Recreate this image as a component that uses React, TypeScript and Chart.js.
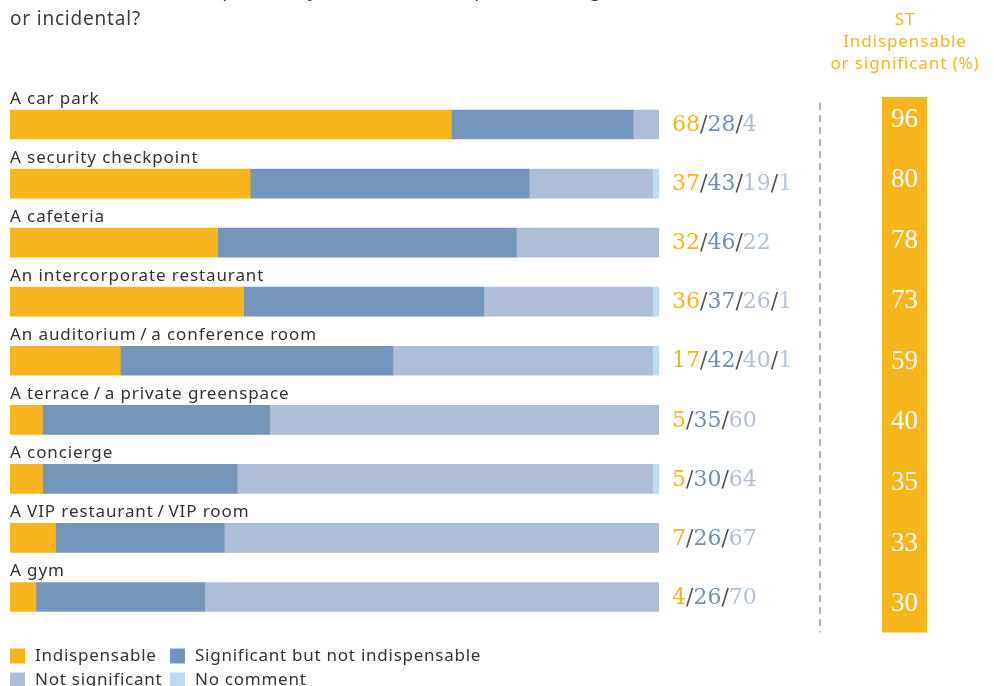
import React, { useEffect, useRef } from "react";
import { Chart, registerables } from "chart.js";

Chart.register(...registerables);

const QUESTION_LINES = [
  "Would each of these spaces at your site be indispensable, significant",
  "or incidental?",
];
const HEADER_LINES = ["ST", "Indispensable", "or significant (%)"];

const categories = [
  "A car park",
  "A security checkpoint",
  "A cafeteria",
  "An intercorporate restaurant",
  "An auditorium\u2009/\u2009a conference room",
  "A terrace\u2009/\u2009a private greenspace",
  "A concierge",
  "A VIP restaurant\u2009/\u2009VIP room",
  "A gym",
];
const indispensable = [68, 37, 32, 36, 17, 5, 5, 7, 4];
const significant = [28, 43, 46, 37, 42, 35, 30, 26, 26];
const notSignificant = [4, 19, 22, 26, 40, 60, 64, 67, 70];
const noComment = [0, 1, 0, 1, 1, 0, 1, 0, 0];
const valueLabels = [
  "68/28/4",
  "37/43/19/1",
  "32/46/22",
  "36/37/26/1",
  "17/42/40/1",
  "5/35/60",
  "5/30/64",
  "7/26/67",
  "4/26/70",
];
const stTotals = [96, 80, 78, 73, 59, 40, 35, 33, 30];

const seriesNames = [
  "Indispensable",
  "Significant but not indispensable",
  "Not significant",
  "No comment",
];
const seriesColors = ["#F8B61E", "#7396BA", "#AFBDD5", "#BEDBF0"];
const valueColors = ["#F8B61E", "#6F90B8", "#B3C1D8", "#B9C6DC"];

const SANS = '"Noto Sans", "DejaVu Sans", sans-serif';
const SERIF = '"DejaVu Serif", serif';

function setSpacing(ctx: any, px: number) {
  if ("letterSpacing" in ctx) ctx.letterSpacing = px + "px";
}

const overlayPlugin = {
  id: "overlay",
  afterDatasetsDraw(chart: any) {
    const ctx = chart.ctx as CanvasRenderingContext2D;
    const xs = chart.scales.x;
    const ys = chart.scales.y;
    ctx.save();
    ctx.textBaseline = "middle";

    // question
    ctx.textAlign = "left";
    ctx.fillStyle = "#3d3d3d";
    ctx.font = `19px ${SANS}`;
    setSpacing(ctx, 0.8);
    QUESTION_LINES.forEach((l, i) => ctx.fillText(l, 10, -9 + i * 29));

    // header (right column)
    ctx.textAlign = "center";
    ctx.fillStyle = "#F8B61E";
    ctx.font = `17px ${SANS}`;
    setSpacing(ctx, 0.9);
    HEADER_LINES.forEach((l, i) => ctx.fillText(l, 905, 20 + i * 22));

    // category labels
    ctx.textAlign = "left";
    ctx.fillStyle = "#333333";
    ctx.font = `17px ${SANS}`;
    setSpacing(ctx, 0.9);
    categories.forEach((c, i) => {
      ctx.fillText(c, xs.getPixelForValue(0), ys.getPixelForValue(i) - 25.5);
    });

    // value texts
    setSpacing(ctx, 0);
    ctx.font = `22px ${SERIF}`;
    categories.forEach((_, i) => {
      const parts = valueLabels[i].split("/");
      let x = xs.getPixelForValue(100) + 13;
      const cy = ys.getPixelForValue(i) + 1;
      parts.forEach((t, k) => {
        if (k > 0) {
          ctx.fillStyle = "#555555";
          ctx.fillText("/", x, cy);
          x += ctx.measureText("/").width;
        }
        ctx.fillStyle = valueColors[k];
        ctx.fillText(t, x, cy);
        x += ctx.measureText(t).width;
      });
    });

    // dashed divider
    ctx.strokeStyle = "#9a9a9a";
    ctx.lineWidth = 1.5;
    ctx.setLineDash([7, 5]);
    ctx.beginPath();
    ctx.moveTo(820, ys.top + 8);
    ctx.lineTo(820, ys.bottom + 6);
    ctx.stroke();
    ctx.setLineDash([]);

    // ST column
    ctx.fillStyle = "#F8B61E";
    ctx.fillRect(882, ys.top + 2, 45, ys.bottom + 6 - (ys.top + 2));
    ctx.fillStyle = "#ffffff";
    ctx.textAlign = "center";
    ctx.font = `27px "Liberation Serif", serif`;
    const first = ys.getPixelForValue(0);
    const last = ys.getPixelForValue(stTotals.length - 1);
    const step = (last - first + 12) / (stTotals.length - 1);
    stTotals.forEach((v, i) => {
      ctx.fillText(String(v), 904.5, first - 5 + i * step);
    });

    // legend
    ctx.textAlign = "left";
    ctx.font = `17px ${SANS}`;
    setSpacing(ctx, 0.75);
    const legendPos = [
      [10, 656],
      [170, 656],
      [10, 680],
      [170, 680],
    ];
    seriesNames.forEach((n, k) => {
      const [lx, ly] = legendPos[k];
      ctx.fillStyle = seriesColors[k];
      ctx.fillRect(lx, ly - 7.5, 15, 15);
      ctx.fillStyle = "#333333";
      ctx.fillText(n, lx + 25, ly);
    });

    ctx.restore();
  },
};

export default function App() {
  const ref = useRef<HTMLCanvasElement | null>(null);
  useEffect(() => {
    if (!ref.current) return;
    const datasets = [indispensable, significant, notSignificant, noComment].map((d, k) => ({
      label: seriesNames[k],
      data: d,
      backgroundColor: seriesColors[k],
      borderWidth: 0,
      barThickness: 29,
    }));
    const chart = new Chart(ref.current, {
      type: "bar",
      data: { labels: categories, datasets },
      options: {
        indexAxis: "y",
        responsive: false,
        animation: false,
        layout: { padding: { left: 10, right: 335, top: 95, bottom: 59.5 } },
        scales: {
          x: { stacked: true, min: 0, max: 100, display: false },
          y: { stacked: true, display: false },
        },
        plugins: {
          legend: { display: false },
          tooltip: { enabled: false },
        },
      },
      plugins: [overlayPlugin],
    } as any);
    return () => chart.destroy();
  }, []);
  return (
    <div style={{ position: "absolute", left: 0, top: 0, width: 994, height: 686, background: "#fff" }}>
      <canvas ref={ref} width={994} height={686} style={{ display: "block" }} />
    </div>
  );
}
